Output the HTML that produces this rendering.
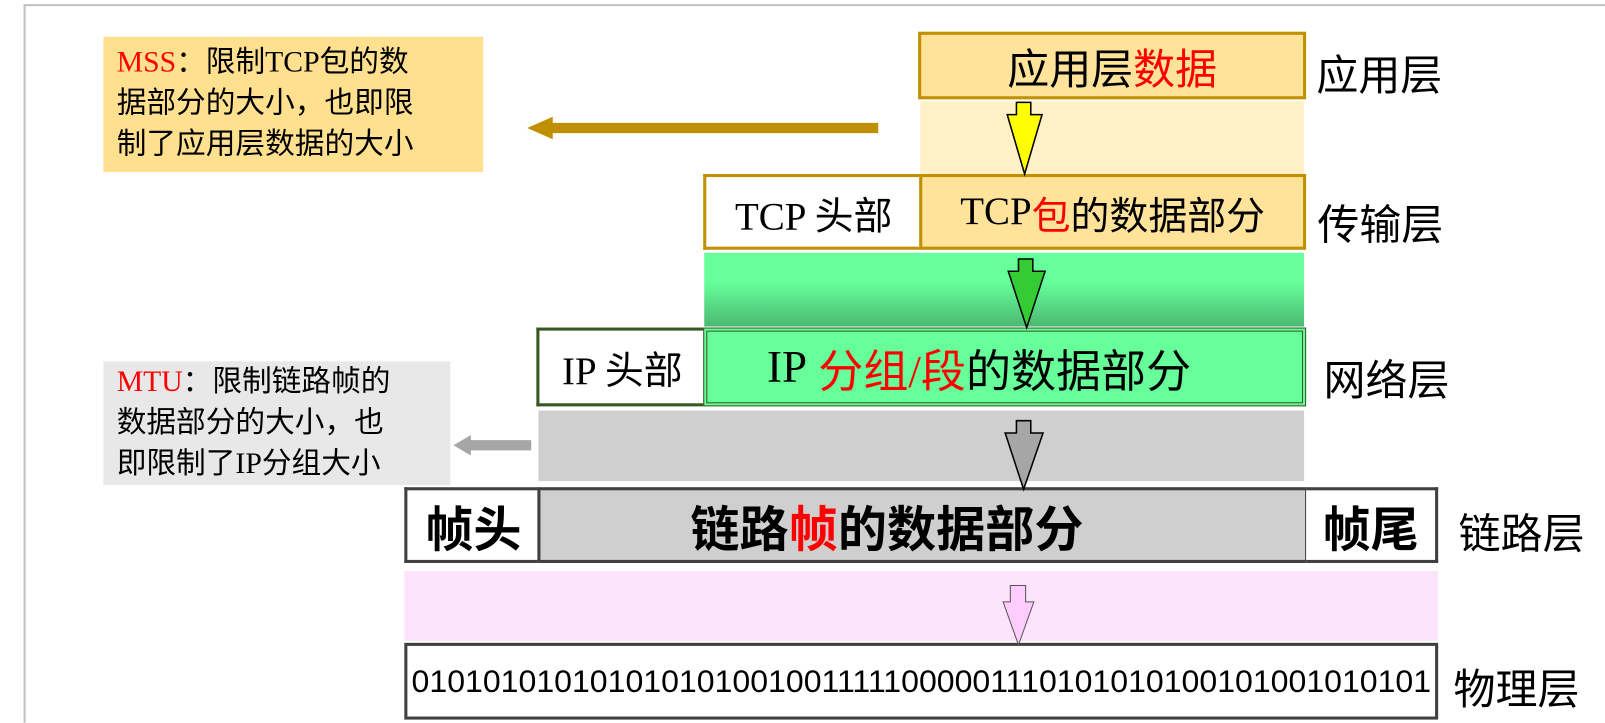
<!DOCTYPE html>
<html><head><meta charset="utf-8"><style>
body{margin:0;width:1605px;height:723px;background:#fff;position:relative;overflow:hidden;font-family:"Liberation Serif","Noto Sans CJK SC",serif;}
#w{position:absolute;left:0;top:0;width:1568px;height:706px;transform:scale(1.0236);transform-origin:0 0;}
.a{position:absolute;box-sizing:border-box;display:flex;align-items:center;justify-content:center;white-space:nowrap;}
.r{color:#ff0000}
.lbl{position:absolute;font-size:41px;font-family:"Liberation Sans","Noto Sans CJK SC",sans-serif;white-space:nowrap;}
.s{font-family:"Liberation Sans","Noto Sans CJK SC",sans-serif;}
</style></head><body><div id="w">
<div style="position:absolute;left:23px;top:4px;width:1545px;height:2px;background:#c0c0c0"></div>
<div style="position:absolute;left:23px;top:4px;width:2px;height:702px;background:#c0c0c0"></div>

<div style="position:absolute;left:101px;top:36px;width:371px;height:132px;background:#FFE08E;box-sizing:border-box;padding:5px 0 0 13px;font-size:29px;line-height:40px;">
<div><span class="r">MSS</span>：限制TCP包的数</div><div>据部分的大小，也即限</div><div>制了应用层数据的大小</div></div>
<div style="position:absolute;left:101px;top:353px;width:339px;height:121px;background:#E8E8E8;box-sizing:border-box;padding:0 0 0 13px;font-size:29px;line-height:40px;">
<div><span class="r">MTU</span>：限制链路帧的</div><div>数据部分的大小，也</div><div>即限制了IP分组大小</div></div>

<div style="position:absolute;left:899px;top:99px;width:375px;height:71px;background:#FFF0C8"></div>
<div style="position:absolute;left:688px;top:247px;width:586px;height:72px;background:linear-gradient(#66FF99 40%,#4CB872)"></div>
<div style="position:absolute;left:526px;top:401px;width:748px;height:69px;background:#CFCFCF"></div>
<div style="position:absolute;left:395px;top:558px;width:1010px;height:68px;background:#FCE4FC"></div>

<div class="a s" style="left:897px;top:31px;width:379px;height:66px;border:3px solid #C09000;background:#FFE39A;font-size:41px;">应用层<span class="r">数据</span></div>

<div class="a" style="left:687px;top:170px;width:213px;height:74px;border:3px solid #C09000;border-right:none;background:#fff;font-size:38px;">TCP 头部</div>
<div class="a" style="left:898px;top:170px;width:378px;height:74px;border:3px solid #C09000;background:#FFE39A;font-size:38px;">TCP<span class="r">包</span>的数据部分</div>

<div class="a" style="left:524px;top:320px;width:165px;height:77px;border:3px solid #385723;border-right:none;background:#fff;font-size:38px;">IP 头部</div>
<div class="a" style="left:687px;top:320px;width:589px;height:77px;border:4px double #385723;background:#66FF99;font-size:44px;padding-right:50px;">IP&nbsp;<span class="r">分组/段</span>的数据部分</div>

<div class="a s" style="left:395px;top:476px;width:132px;height:74px;border:3px solid #404040;border-right:none;background:#fff;font-size:47px;font-weight:bold;">帧头</div>
<div class="a s" style="left:525px;top:476px;width:753px;height:74px;border:3px solid #404040;background:#CFCFCF;font-size:48px;font-weight:bold;padding-right:70px;">链路<span class="r">帧</span>的数据部分</div>
<div class="a s" style="left:1276px;top:476px;width:129px;height:74px;border:3px solid #404040;border-left:none;background:#fff;font-size:47px;font-weight:bold;">帧尾</div>

<div class="a s" style="left:395px;top:628px;width:1010px;height:75px;border:3px solid #404040;background:#fff;font-size:31px;"><span style="display:inline-block;transform:scaleX(1.01)">0101010101010101010010011111000001110101010100101001010101</span></div>

<div class="lbl" style="left:1286px;top:40px">应用层</div>
<div class="lbl" style="left:1287px;top:186px">传输层</div>
<div class="lbl" style="left:1293px;top:338px">网络层</div>
<div class="lbl" style="left:1425px;top:488px">链路层</div>
<div class="lbl" style="left:1420px;top:640px">物理层</div>

<svg width="1568" height="706" style="position:absolute;left:0;top:0">
<polygon points="858,120 540,120 540,114 515,125 540,136 540,130 858,130" fill="#BF8F00"/>
<polygon points="519,430 460,430 460,425 443,435 460,445 460,440 519,440" fill="#A6A6A6"/>
<polygon points="993,100 1007,100 1007,112 1018,112 1001,170 984,112 993,112" fill="#FFFF00" stroke="#000" stroke-width="1.5"/>
<polygon points="995,253 1009,253 1009,265 1021,265 1003,320 985,265 995,265" fill="#33CC33" stroke="#000" stroke-width="1.5"/>
<polygon points="993,411 1007,411 1007,423 1019,423 1000,478 982,423 993,423" fill="#A6A6A6" stroke="#000" stroke-width="1.5"/>
<polygon points="987,572 1002,572 1002,588 1010,588 995,630 980,588 987,588" fill="#FFCCFF" stroke="#555" stroke-width="1"/>
</svg>
</div></body></html>
